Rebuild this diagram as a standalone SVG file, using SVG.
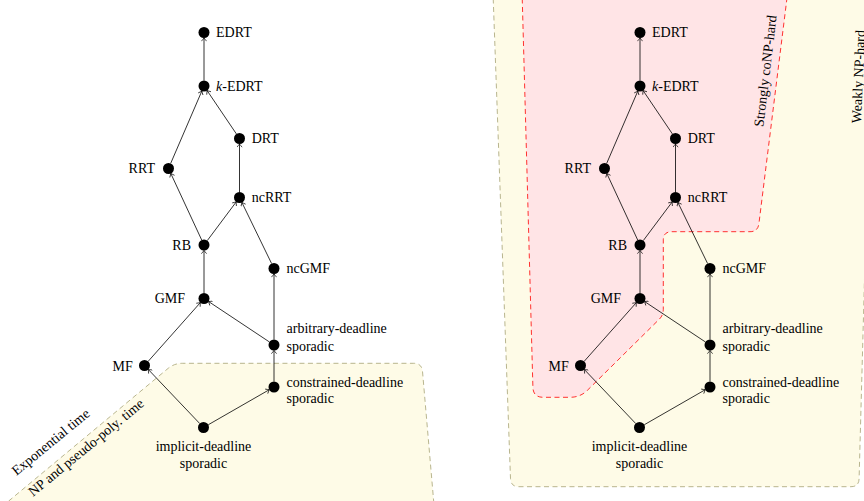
<svg xmlns="http://www.w3.org/2000/svg" width="864" height="501" viewBox="0 0 864 501">
<style>
text{font-family:"Liberation Serif","Times New Roman",serif;font-size:14px;fill:#000}
.e{text-anchor:end}
.m{text-anchor:middle}
.node circle{fill:#000}
.edge{stroke:#000;stroke-width:0.8;fill:none;marker-end:url(#arr)}
.yel{fill:#fefbe7;stroke:#a6a274;stroke-width:0.8;stroke-dasharray:5 3.5}
.pink{fill:#ffe4e6;stroke:#ff0000;stroke-width:0.8;stroke-dasharray:5 3.5}
</style>
<defs>
<marker id="arr" viewBox="-4 -3 5 6" markerWidth="5" markerHeight="6" refX="0" refY="0" orient="auto" markerUnits="userSpaceOnUse">
<path d="M-3.2,-2.6 Q-0.9,-0.7 0,0 Q-0.9,0.7 -3.2,2.6" fill="none" stroke="#000" stroke-width="0.7"/>
</marker>
<g id="edges-def">
<line class="edge" x1="204" y1="80.5" x2="204" y2="38"/>
<line class="edge" x1="170.67" y1="163.45" x2="201.83" y2="91.05"/>
<line class="edge" x1="236.42" y1="133.94" x2="207.08" y2="90.56"/>
<line class="edge" x1="239.5" y1="192" x2="239.5" y2="144"/>
<line class="edge" x1="201.69" y1="240.01" x2="170.82" y2="173.49"/>
<line class="edge" x1="207.29" y1="240.59" x2="236.21" y2="201.91"/>
<line class="edge" x1="271.6" y1="263.55" x2="241.9" y2="202.45"/>
<line class="edge" x1="204" y1="293" x2="204" y2="250.5"/>
<line class="edge" x1="148.15" y1="361.39" x2="200.35" y2="302.61"/>
<line class="edge" x1="269.42" y1="341.96" x2="208.58" y2="301.54"/>
<line class="edge" x1="274" y1="339.5" x2="274" y2="274"/>
<line class="edge" x1="274" y1="381.5" x2="274" y2="350.5"/>
<line class="edge" x1="199.71" y1="423.52" x2="148.29" y2="369.48"/>
<line class="edge" x1="208.27" y1="424.76" x2="269.23" y2="389.74"/>
</g>
</defs>

<!-- regions -->
<g id="regions">
<path class="yel" d="M-4.5,512 L168.1,368.4 Q174.3,363.3 182.3,363.3 L413.8,363.3 Q421.8,363.3 422.5,371.3 L434.6,512"/>
<path class="yel" d="M492.9,-10 L510.5,478.7 Q510.8,486.7 518.8,486.7 L850.9,486.7 Q858.9,486.7 859.1,478.7 L872.3,-10 Z"/>
<path class="pink" d="M522,-10 L532.9,387.3 Q533.2,397.3 543.2,397.3 L570,397.3 Q580.5,397.3 587.5,390.2 L659.5,319 Q663.3,315.1 663.3,309.5 L663.3,240 Q663.3,231.7 671.6,231.7 L750,231.7 Q757.9,231.7 758.9,223.8 L788,-10 Z"/>
<text transform="translate(16.5,476) rotate(-39.4)">Exponential time</text>
<text transform="translate(33,497) rotate(-39.4)">NP and pseudo-poly. time</text>
<text transform="translate(763.3,127.3) rotate(-83.2)">Strongly coNP-hard</text>
<text transform="translate(861,123.5) rotate(-87.5)">Weakly NP-hard</text>
</g>

<!-- connectors -->
<g id="connectors">
<use href="#edges-def"/>
<use href="#edges-def" transform="translate(436,0)"/>
</g>

<!-- left graph nodes -->
<g id="left">
<g id="L-EDRT" class="node"><circle cx="204" cy="32.5" r="5.5"/><text x="216" y="37.3">EDRT</text></g>
<g id="L-kEDRT" class="node"><circle cx="204" cy="86" r="5.5"/><text x="216" y="90.8"><tspan font-style="italic">k</tspan>-EDRT</text></g>
<g id="L-DRT" class="node"><circle cx="239.5" cy="138.5" r="5.5"/><text x="251.7" y="143.3">DRT</text></g>
<g id="L-RRT" class="node"><circle cx="168.5" cy="168.5" r="5.5"/><text class="e" x="155" y="173.3">RRT</text></g>
<g id="L-ncRRT" class="node"><circle cx="239.5" cy="197.5" r="5.5"/><text x="251.7" y="202.3">ncRRT</text></g>
<g id="L-RB" class="node"><circle cx="204" cy="245" r="5.5"/><text class="e" x="191" y="250">RB</text></g>
<g id="L-ncGMF" class="node"><circle cx="274" cy="268.5" r="5.5"/><text x="286.5" y="273.3">ncGMF</text></g>
<g id="L-GMF" class="node"><circle cx="204" cy="298.5" r="5.5"/><text class="e" x="185" y="303.3">GMF</text></g>
<g id="L-arb" class="node"><circle cx="274" cy="345" r="5.5"/><text x="286.5" y="333.3">arbitrary-deadline</text><text x="286.5" y="351">sporadic</text></g>
<g id="L-MF" class="node"><circle cx="144.5" cy="365.5" r="5.5"/><text class="e" x="132.7" y="370.5">MF</text></g>
<g id="L-con" class="node"><circle cx="274" cy="387" r="5.5"/><text x="286.5" y="387">constrained-deadline</text><text x="286.5" y="403">sporadic</text></g>
<g id="L-imp" class="node"><circle cx="203.5" cy="427.5" r="5.5"/><text class="m" x="203.5" y="450.5">implicit-deadline</text><text class="m" x="203.5" y="468.3">sporadic</text></g>
</g>

<!-- right graph nodes -->
<g id="right" transform="translate(436,0)">
<g id="R-EDRT" class="node"><circle cx="204" cy="32.5" r="5.5"/><text x="216" y="37.3">EDRT</text></g>
<g id="R-kEDRT" class="node"><circle cx="204" cy="86" r="5.5"/><text x="216" y="90.8"><tspan font-style="italic">k</tspan>-EDRT</text></g>
<g id="R-DRT" class="node"><circle cx="239.5" cy="138.5" r="5.5"/><text x="251.7" y="143.3">DRT</text></g>
<g id="R-RRT" class="node"><circle cx="168.5" cy="168.5" r="5.5"/><text class="e" x="155" y="173.3">RRT</text></g>
<g id="R-ncRRT" class="node"><circle cx="239.5" cy="197.5" r="5.5"/><text x="251.7" y="202.3">ncRRT</text></g>
<g id="R-RB" class="node"><circle cx="204" cy="245" r="5.5"/><text class="e" x="191" y="250">RB</text></g>
<g id="R-ncGMF" class="node"><circle cx="274" cy="268.5" r="5.5"/><text x="286.5" y="273.3">ncGMF</text></g>
<g id="R-GMF" class="node"><circle cx="204" cy="298.5" r="5.5"/><text class="e" x="185" y="303.3">GMF</text></g>
<g id="R-arb" class="node"><circle cx="274" cy="345" r="5.5"/><text x="286.5" y="333.3">arbitrary-deadline</text><text x="286.5" y="351">sporadic</text></g>
<g id="R-MF" class="node"><circle cx="144.5" cy="365.5" r="5.5"/><text class="e" x="132.7" y="370.5">MF</text></g>
<g id="R-con" class="node"><circle cx="274" cy="387" r="5.5"/><text x="286.5" y="387">constrained-deadline</text><text x="286.5" y="403">sporadic</text></g>
<g id="R-imp" class="node"><circle cx="203.5" cy="427.5" r="5.5"/><text class="m" x="203.5" y="450.5">implicit-deadline</text><text class="m" x="203.5" y="468.3">sporadic</text></g>
</g>
</svg>
